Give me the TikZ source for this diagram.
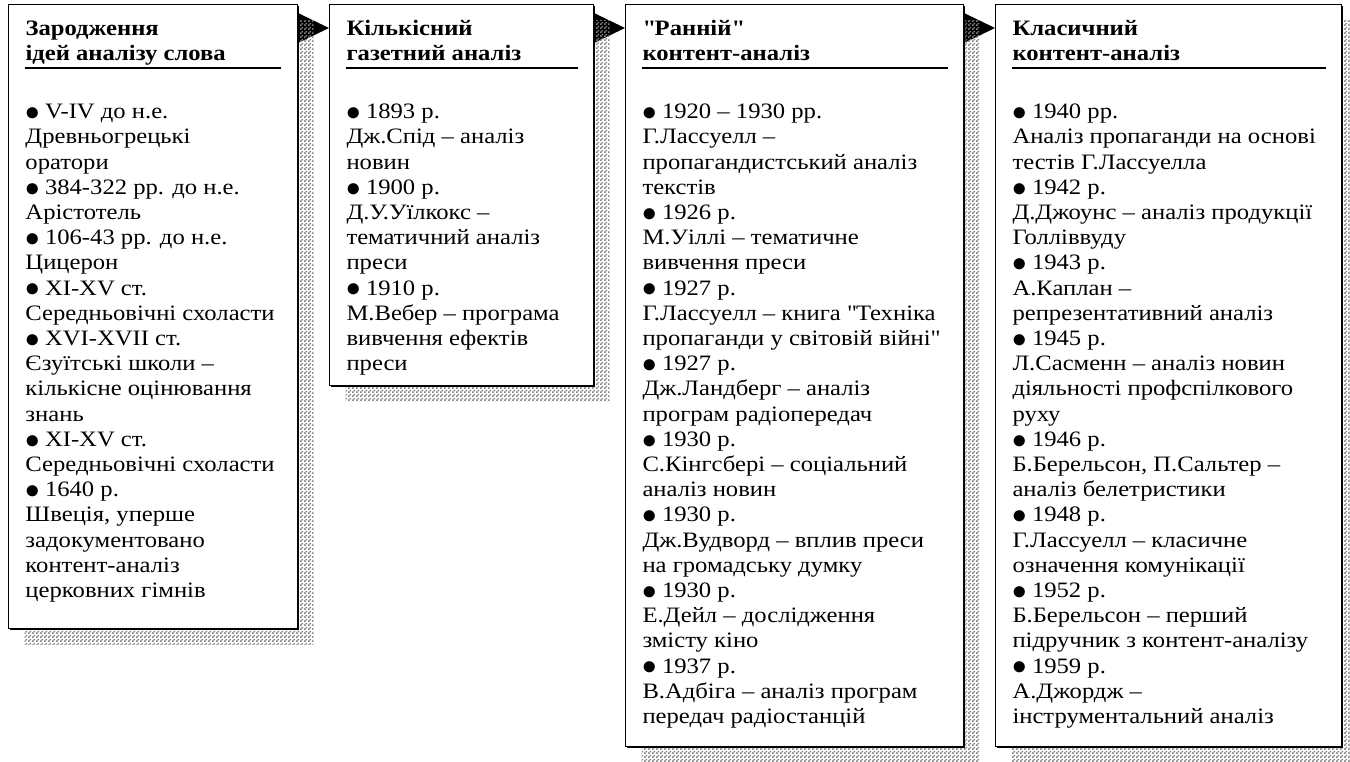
\documentclass[tikz,border=0pt]{standalone}
\usepackage{fontspec}
\setmainfont[FakeStretch=1.12]{Liberation Serif}
\usetikzlibrary{positioning,calc,shadows,patterns,backgrounds}

\pgfdeclarepatternformonly{finechecker}{\pgfpointorigin}{\pgfqpoint{4pt}{4pt}}{\pgfqpoint{4pt}{4pt}}{%
    \pgfpathrectangle{\pgfpointorigin}{\pgfqpoint{2pt}{2pt}}%
    \pgfpathrectangle{\pgfqpoint{2pt}{2pt}}{\pgfqpoint{2pt}{2pt}}%
    \pgfusepath{fill}}

\newcommand{\yr}{\raisebox{-1.7pt}{\scalebox{1.4}{$\bullet$}}\hspace{5pt}}
\newcommand{\stagetext}[4]{%
  \parbox[t][#2][t]{#1}{\fontsize{22}{25.2}\selectfont
    \parindent=0pt \leftskip=1pt \rightskip=-40pt plus 1fil \parfillskip=0pt
    \rule{0pt}{31pt}{\bfseries #3}\rule[-6pt]{0pt}{0pt}\par
    \nointerlineskip\hrule height 2pt\relax
    \rule{0pt}{50pt}#4\par}}

\tikzset{
    stagebox/.style={draw, line width=1pt, fill=white, inner xsep=16pt, inner ysep=0pt,
        anchor=north west,
        drop shadow={shadow xshift=16pt, shadow yshift=-16pt, opacity=1,
            pattern=finechecker, pattern color=gray},
        drop shadow={shadow xshift=1.5pt, shadow yshift=-1.5pt, opacity=1, fill=black}},
    stagearrow/.style={fill=black}
}

\begin{document}
\begin{tikzpicture}[x=1pt, y=1pt]
\useasboundingbox (0,0) rectangle (1350,-761);

\node[stagebox] (stage1) at (8,-4) {\stagetext{257pt}{624pt}{Зародження\\ідей аналізу слова}{%
\yr V-IV до н.е.\\
Древньогрецькі\\
оратори\\
\yr 384-322 рр. до н.е.\\
Арістотель\\
\yr 106-43 рр. до н.е.\\
Цицерон\\
\yr XI-XV ст.\\
Середньовічні схоласти\\
\yr XVI-XVII ст.\\
Єзуїтські школи –\\
кількісне оцінювання\\
знань\\
\yr XI-XV ст.\\
Середньовічні схоласти\\
\yr 1640 р.\\
Швеція, уперше\\
задокументовано\\
контент-аналіз\\
церковних гімнів}};

\node[stagebox, right=31pt of stage1.north east, anchor=north west] (stage2) {\stagetext{232pt}{381pt}{Кількісний\\газетний аналіз}{%
\yr 1893 р.\\
Дж.Спід – аналіз\\
новин\\
\yr 1900 р.\\
Д.У.Уїлкокс –\\
тематичний аналіз\\
преси\\
\yr 1910 р.\\
М.Вебер – програма\\
вивчення ефектів\\
преси}};

\node[stagebox, right=31pt of stage2.north east, anchor=north west] (stage3) {\stagetext{306pt}{742pt}{\textquotedbl Ранній\textquotedbl\\контент-аналіз}{%
\yr 1920 – 1930 рр.\\
Г.Лассуелл –\\
пропагандистський аналіз\\
текстів\\
\yr 1926 р.\\
М.Уіллі – тематичне\\
вивчення преси\\
\yr 1927 р.\\
Г.Лассуелл – книга \textquotedbl Техніка\\
пропаганди у світовій війні\textquotedbl\\
\yr 1927 р.\\
Дж.Ландберг – аналіз\\
програм радіопередач\\
\yr 1930 р.\\
С.Кінгсбері – соціальний\\
аналіз новин\\
\yr 1930 р.\\
Дж.Вудворд – вплив преси\\
на громадську думку\\
\yr 1930 р.\\
Е.Дейл – дослідження\\
змісту кіно\\
\yr 1937 р.\\
В.Адбіга – аналіз програм\\
передач радіостанцій}};

\node[stagebox, right=31pt of stage3.north east, anchor=north west] (stage4) {\stagetext{314pt}{742pt}{Класичний\\контент-аналіз}{%
\yr 1940 рр.\\
Аналіз пропаганди на основі\\
тестів Г.Лассуелла\\
\yr 1942 р.\\
Д.Джоунс – аналіз продукції\\
Голліввуду\\
\yr 1943 р.\\
А.Каплан –\\
репрезентативний аналіз\\
\yr 1945 р.\\
Л.Сасменн – аналіз новин\\
діяльності профспілкового\\
руху\\
\yr 1946 р.\\
Б.Берельсон, П.Сальтер –\\
аналіз белетристики\\
\yr 1948 р.\\
Г.Лассуелл – класичне\\
означення комунікації\\
\yr 1952 р.\\
Б.Берельсон – перший\\
підручник з контент-аналізу\\
\yr 1959 р.\\
А.Джордж –\\
інструментальний аналіз}};

% arrows between the stages, under the shadows
\begin{scope}[on background layer]
\foreach \a/\b in {stage1/stage2, stage2/stage3, stage3/stage4}
    \fill[stagearrow] ($(\a.north east)+(0,-9)$) -- ($(\b.north west)+(0,-24)$) -- ($(\a.north east)+(0,-39)$) -- cycle;
\end{scope}
\end{tikzpicture}
\end{document}
